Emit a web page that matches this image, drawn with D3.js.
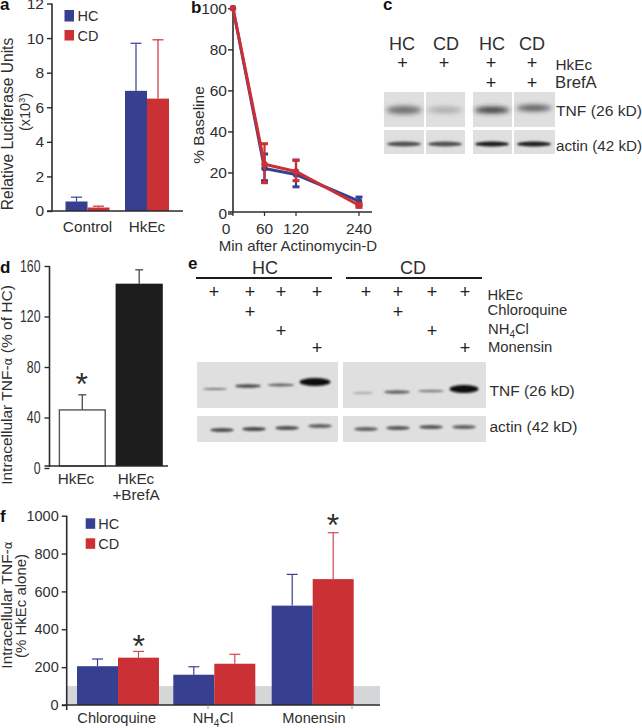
<!DOCTYPE html>
<html><head><meta charset="utf-8">
<script src="https://cdn.jsdelivr.net/npm/d3@7/dist/d3.min.js"></script>
<style>html,body{margin:0;padding:0;background:#fff}svg{display:block}text{font-family:"Liberation Sans",Arial,sans-serif;fill:#2f2f2f}</style>
</head><body><div id="c"></div>
<script>
// ---- data ----
const seriesNames = ["HC","CD"];
const aCategories = ["Control","HkEc"];
const aHC = [0.55,6.95], aCD = [0.2,6.5];
const aHCErr = [0.8,9.7], aCDErr = [0.28,9.9];
const aTicks = [0,2,4,6,8,10,12];
const bMinutes = [0,60,120,240];
const bHC = [100,22,19,6], bCD = [100,24,20.5,4];
const bHCLow = [100,16,13,4], bHCHigh = [100,29,26,8];
const bCDLow = [100,15,16,3], bCDHigh = [100,34,26,5];
const bYTicks = [0,20,40,60,80,100];
const dCategories = ["HkEc","HkEc+BrefA"];
const dValues = [46,146], dErr = [58,157];
const dTicks = [0,40,80,120,160];
const fCategories = ["Chloroquine","NH4Cl","Monensin"];
const fHC = [205,160,525], fCD = [250,218,665];
const fHCErr = [243,202,690], fCDErr = [283,268,910];
const fTicks = [0,200,400,600,800,1000];
const fBaseline = 100;
// blot band darkness (0..1), lanes left to right
const cTNF = [0.5,0.17,0.85,0.65], cActin = [0.65,0.65,0.92,0.92];
const eTNF_HC = [0.45,0.7,0.55,1], eTNF_CD = [0.2,0.55,0.4,1];
const eActin_HC = [0.65,0.7,0.65,0.55], eActin_CD = [0.55,0.6,0.6,0.55];
const eRows = ["HkEc","Chloroquine","NH4Cl","Monensin"];
const eTreat = [[1,0,0,0],[1,1,0,0],[1,0,1,0],[1,0,0,1]];

const BLUE="#373f90", RED="#cb3034", INK="#2b2b2b";
const svg=d3.select("#c").append("svg").attr("width",642).attr("height",728);
const defs=svg.append("defs");
defs.append("filter").attr("id","blur").attr("x","-30%").attr("y","-100%").attr("width","160%").attr("height","300%")
  .append("feGaussianBlur").attr("stdDeviation","1.3 1.2");
defs.append("filter").attr("id","blur2").attr("x","-30%").attr("y","-150%").attr("width","160%").attr("height","400%")
  .append("feGaussianBlur").attr("stdDeviation","2.5 2.5");

function T(x,y,s,size,opt={}){
  const t=svg.append("text").attr("x",x).attr("y",y).attr("font-size",size).text(s);
  if(opt.anchor)t.attr("text-anchor",opt.anchor);
  if(opt.weight)t.attr("font-weight",opt.weight);
  if(opt.fill)t.style("fill",opt.fill);
  if(opt.len)t.attr("textLength",opt.len).attr("lengthAdjust","spacingAndGlyphs");
  return t;
}
function RT(cx,cy,size){ // rotated text
  return svg.append("text").attr("transform",`translate(${cx},${cy}) rotate(-90)`).attr("text-anchor","middle").attr("font-size",size);
}
function yAxis(x,scale,ticks,size){
  const g=svg.append("g").attr("transform",`translate(${x},0)`)
    .call(d3.axisLeft(scale).tickValues(ticks).tickSize(5).tickPadding(3).tickFormat(d3.format("d")));
  g.selectAll("path").remove();
  g.selectAll("line").attr("stroke",INK).attr("stroke-width",1.4);
  g.selectAll("text").attr("font-size",size).attr("font-family",null).style("fill","#2f2f2f");
  return g;
}
function line(x1,y1,x2,y2,c=INK,w=1.6){
  svg.append("line").attr("x1",x1).attr("y1",y1).attr("x2",x2).attr("y2",y2).attr("stroke",c).attr("stroke-width",w);
}
function bars(vals,errs,xs,w,y,y0,color,errColor){
  const g=svg.append("g");
  vals.forEach((v,i)=>{
    const cx=xs(i)+w/2;
    g.append("line").attr("x1",cx).attr("x2",cx).attr("y1",y(errs[i])).attr("y2",y(v)).attr("stroke",errColor).attr("stroke-width",1.2);
    g.append("line").attr("x1",cx-5.5).attr("x2",cx+5.5).attr("y1",y(errs[i])).attr("y2",y(errs[i])).attr("stroke",errColor).attr("stroke-width",1.2);
    g.append("rect").attr("x",xs(i)).attr("width",w).attr("y",y(v)).attr("height",y0-y(v)).attr("fill",color);
  });
}
function blot(x0,x1,y0,y1,fill="#dfdfdf"){
  svg.append("rect").attr("x",x0).attr("y",y0).attr("width",x1-x0).attr("height",y1-y0).attr("fill",fill);
}
function band(cx,cy,w,h,dark,blur="blur"){
  const g=Math.round(200-185*dark);
  svg.append("ellipse").attr("cx",cx).attr("cy",cy).attr("rx",w/2).attr("ry",h/2)
    .attr("fill",`rgb(${g},${g},${g})`).attr("filter",`url(#${blur})`);
}
function star(x,y){ T(x,y,"*",32,{anchor:"middle"}); }
function plus(x,cy){ T(x,cy+6,"+",18,{anchor:"middle",fill:"#222"}); }

// ---- panel a ----
{
  const y=d3.scaleLinear().domain([0,12]).range([211,3.5]);
  const x=d3.scalePoint().domain(aCategories).range([87.5,147]);
  const w=22;
  bars(aHC,aHCErr,i=>x(aCategories[i])-w,w,y,211,BLUE,BLUE);
  bars(aCD,aCDErr,i=>x(aCategories[i]),w,y,211,RED,RED);
  yAxis(52,y,aTicks,15.5);
  line(52,3.5,52,211.7); line(47,211,183,211);
  aCategories.forEach(c=>T(x(c),231.5,c,15.3,{anchor:"middle"}));
  [0,1].forEach(i=>{
    svg.append("rect").attr("x",64.5).attr("y",i?30:10).attr("width",9.5).attr("height",i?10.5:11.5).attr("fill",i?RED:BLUE);
    T(77.5,i?41:21,seriesNames[i],14.5);
  });
  RT(13,124,15.6).text("Relative Luciferase Units");
  const t=RT(30,112,14.5); t.text("(x10"); t.append("tspan").attr("font-size",9).attr("dy",-5).text("3"); t.append("tspan").attr("dy",5).text(")");
  T(0,10,"a",17,{weight:"bold",fill:"#111"});
}
// ---- panel b ----
{
  const y=d3.scaleLinear().domain([0,100]).range([213.5,8.3]);
  const x=d3.scaleLinear().domain([0,240]).range([233,359]);
  yAxis(233,y,bYTicks,15.5).selectAll(".tick text").attr("x",-6);
  line(233,8,233,212); line(228,212,372,212);
  bMinutes.forEach(m=>{
    line(x(m),212,x(m),216,INK,1.2);
    T(m===0?226:x(m),234,m,15.5,{anchor:"middle"});
  });
  const mk=(vals,lo,hi,color)=>{
    const g=svg.append("g");
    vals.forEach((v,i)=>{
      if(i===0)return;
      g.append("line").attr("x1",x(bMinutes[i])).attr("x2",x(bMinutes[i])).attr("y1",y(lo[i])).attr("y2",y(hi[i])).attr("stroke",color).attr("stroke-width",2.2);
      [lo[i],hi[i]].forEach(e=>g.append("line").attr("x1",x(bMinutes[i])-3.5).attr("x2",x(bMinutes[i])+3.5).attr("y1",y(e)).attr("y2",y(e)).attr("stroke",color).attr("stroke-width",3));
    });
    g.append("path").attr("d",d3.line().x((d,i)=>x(bMinutes[i])).y(d=>y(d))(vals)).attr("fill","none").attr("stroke",color).attr("stroke-width",3);
    g.selectAll("circle").data(vals).join("circle").attr("cx",(d,i)=>x(bMinutes[i])).attr("cy",d=>y(d)).attr("r",3.2).attr("fill",color);
  };
  mk(bHC,bHCLow,bHCHigh,BLUE);
  mk(bCD,bCDLow,bCDHigh,RED);
  RT(204,125,15.5).text("% Baseline");
  T(298,251,"Min after Actinomycin-D",15,{anchor:"middle"});
  T(191,13,"b",17,{weight:"bold",fill:"#111"});
}
// ---- panel c ----
{
  T(383,10,"c",17,{weight:"bold",fill:"#111"});
  const laneX=d3.scaleOrdinal().domain([0,1,2,3]).range([404,445,492,534]);
  const heads=["HC","CD","HC","CD"], headX=[402,446,492,532];
  heads.forEach((h,i)=>T(headX[i],49.5,h,18,{anchor:"middle"}));
  [402.5,444,491,532].forEach(px=>plus(px,63));
  [491,532].forEach(px=>plus(px,83));
  T(555.5,70,"HkEc",15.3);
  T(555,88,"BrefA",16.7);
  T(556,116,"TNF  (26 kD)",15,{len:86});
  T(556,151,"actin (42 kD)",15,{len:86});
  [[384,424],[426,465],[473,512],[514,555]].forEach(([a,b])=>{blot(a,b,92,127);blot(a,b,130,154);});
  cTNF.forEach((d,i)=>band(laneX(i),i===3?108:110,35,i===0?8:6,d,"blur2"));
  cActin.forEach((d,i)=>band(laneX(i),144,34,5,d));
}
// ---- panel d ----
{
  const y=d3.scaleLinear().domain([0,160]).range([468,266]);
  const x=d3.scaleBand().domain(dCategories).range([53,168.5]).paddingInner(0.17).paddingOuter(0.1);
  const w=x.bandwidth();
  dValues.forEach((v,i)=>{
    const cx=x(dCategories[i])+w/2;
    line(cx,y(dErr[i]),cx,y(v),"#555",1.4);
    line(cx-4,y(dErr[i]),cx+4,y(dErr[i]),"#555",1.4);
    svg.append("rect").attr("x",x(dCategories[i])+(i?0:.7)).attr("y",y(v)).attr("width",w-(i?0:1.4)).attr("height",466-y(v))
      .attr("fill",i?"#1d1d1d":"#fff").attr("stroke",i?"none":"#555").attr("stroke-width",1.4);
  });
  yAxis(49.5,y,dTicks,16).selectAll(".tick text").attr("x",0).attr("transform","translate(-9,0) scale(0.77,1)");
  line(49.5,266,49.5,466.7); line(44.5,466,168,466);
  T(76,484,"HkEc",15.3,{anchor:"middle"});
  T(136,484,"HkEc",15.3,{anchor:"middle"});
  T(136,500,"+BrefA",15.3,{anchor:"middle"});
  star(81.7,395);
  const t=RT(12,385,15.5); t.text("Intracellular TNF-"); t.append("tspan").style("font-family","DejaVu Sans").attr("font-size",12).text("α"); t.append("tspan").text(" (% of HC)");
  T(0,273,"d",17,{weight:"bold",fill:"#111"});
}
// ---- panel e ----
{
  T(188,269,"e",17,{weight:"bold",fill:"#111"});
  const rowY=[292,312.3,330.7,347.7];
  const groups=[
    {name:"HC",cx:265,l:196,r:332,plus:[214,250,281,317],blot:[197,338],
     tnf:eTNF_HC,tx:[215,248,281,315],ty:[389,386,385,382],tw:[24,26,27,31],th:[2,3.5,3,8],
     act:eActin_HC,ax:[222,254,287,320],ay:[430,429,428,426]},
    {name:"CD",cx:413,l:346,r:482,plus:[366,398,432,465],blot:[343,486],
     tnf:eTNF_CD,tx:[363,397,431,464],ty:[393,392,391,389],tw:[20,26,26,29],th:[2,3.5,2.5,8],
     act:eActin_CD,ax:[366,398,431,464],ay:[429,428,427,427]}
  ];
  groups.forEach(g=>{
    T(g.cx,274,g.name,18,{anchor:"middle"});
    line(g.l,278,g.r,278,"#1a1a1a",2);
    eTreat.forEach((lane,k)=>lane.forEach((on,r)=>{ if(on) plus(g.plus[k],rowY[r]); }));
    blot(g.blot[0],g.blot[1],362,408);
    blot(g.blot[0],g.blot[1],416,442);
    g.tnf.forEach((d,i)=>band(g.tx[i],g.ty[i],g.tw[i],g.th[i],d));
    g.act.forEach((d,i)=>band(g.ax[i],g.ay[i],24,4,d));
  });
  T(487.5,300,eRows[0],14.8);
  T(487.5,315,eRows[1],14.8);
  const nh=T(488,334,"NH",14.8); nh.append("tspan").attr("font-size",10).attr("dy",4).text("4"); nh.append("tspan").attr("dy",-4).text("Cl");
  T(488,352,eRows[3],14.8);
  T(489.5,396,"TNF (26 kD)",15.5);
  T(489.5,432,"actin (42 kD)",15.5);
}
// ---- panel f ----
{
  const y=d3.scaleLinear().domain([0,1000]).range([705,515.7]);
  const center=[118,214.3,312.7];
  const w=41;
  svg.append("rect").attr("x",67).attr("y",y(fBaseline)).attr("width",313).attr("height",705-y(fBaseline)).attr("fill","#d5d6d8");
  bars(fHC,fHCErr,i=>center[i]-w,w,y,705,BLUE,BLUE);
  bars(fCD,fCDErr,i=>center[i],w,y,705,RED,"#d0484c");
  yAxis(66.7,y,fTicks,14.5);
  line(66.7,515.7,66.7,710); line(62,705,380,705);
  [208,352].forEach(px=>line(px,705,px,709,"#999",1));
  T(116.7,723,fCategories[0],14.6,{anchor:"middle"});
  const nh=T(213,723,"NH",14.6,{anchor:"middle"}); nh.append("tspan").attr("font-size",10).attr("dy",4).text("4"); nh.append("tspan").attr("dy",-4).text("Cl");
  T(314,723,fCategories[2],14.6,{anchor:"middle"});
  [0,1].forEach(i=>{
    svg.append("rect").attr("x",85.7).attr("y",i?538.3:518.3).attr("width",9.5).attr("height",10.5).attr("fill",i?RED:BLUE);
    T(98.3,i?549:529,seriesNames[i],14.5);
  });
  star(138.7,656.5);
  star(333,536);
  const t=RT(11.5,605,15.5); t.text("Intracellular TNF-"); t.append("tspan").style("font-family","DejaVu Sans").attr("font-size",12).text("α");
  RT(26,606,15).text("(% HkEc alone)");
  T(0,522,"f",17,{weight:"bold",fill:"#111"});
}
</script></body></html>
